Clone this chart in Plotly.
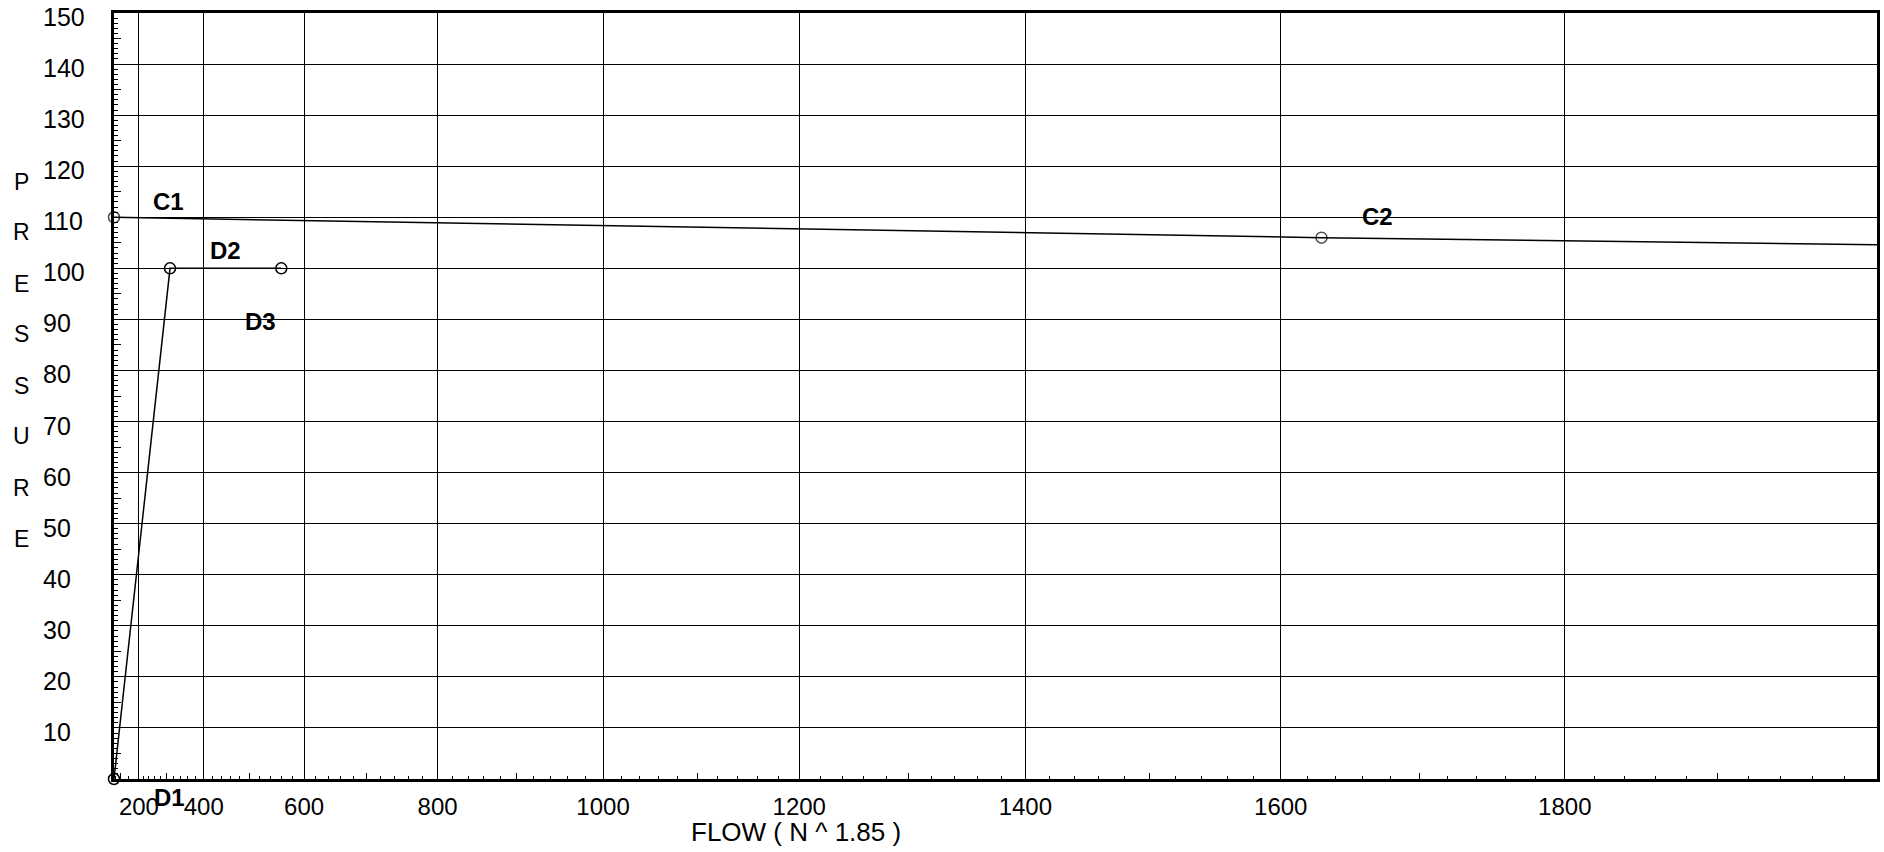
import numpy as np
import plotly.graph_objects as go

# ---------------- data ----------------
EXP = 1.85
flow_tick_vals = [200, 400, 600, 800, 1000, 1200, 1400, 1600, 1800]
flow_tick_text = ["200", "400", "600", "800", "1000", "1200", "1400", "1600", "1800"]
flow_max = 2000
pressure_ticks = [10, 20, 30, 40, 50, 60, 70, 80, 90, 100, 110, 120, 130, 140, 150]
pressure_max = 150

c_flow = [0, 1630, 2000]
c_pressure = [110, 106, 104.6]
c_labels = ["C1", "C2", ""]

d_flow = [0, 310, 560]
d_pressure = [0, 100, 100]
d_labels = ["D1", "D2", "D3"]

y_title_letters = list("PRESSURE")
x_title = "FLOW ( N ^ 1.85 )"

# ---------------- layout constants ----------------
W, H = 1884, 852
L, R, T, B = 114, 4, 13, 73
PW, PH = W - L - R, H - T - B
FONT = "Liberation Sans, Arial, sans-serif"


def fx(q):
    return np.asarray(q, dtype=float) ** EXP


def paper_x(px):
    return (px - L) / PW


def paper_y(py):
    return (H - B - py) / PH


fig = go.Figure()

# supply curve C
fig.add_trace(go.Scatter(
    x=fx(c_flow), y=c_pressure, mode="lines+markers",
    line=dict(color="black", width=1.5),
    marker=dict(symbol="circle-open", size=[11, 11, 0], color="black", line=dict(width=1.5)),
    cliponaxis=False, showlegend=False, hoverinfo="skip"))

# demand curve D
fig.add_trace(go.Scatter(
    x=fx(d_flow), y=d_pressure, mode="lines+markers",
    line=dict(color="black", width=1.5),
    marker=dict(symbol="circle-open", size=11, color="black", line=dict(width=1.5)),
    cliponaxis=False, showlegend=False, hoverinfo="skip"))

# helper traces for overlay tick axes
fig.add_trace(go.Scatter(x=[], y=[], xaxis="x2", yaxis="y", showlegend=False))
fig.add_trace(go.Scatter(x=[], y=[], xaxis="x", yaxis="y2", showlegend=False))

minor_flow = [50, 150] + [q for q in range(220, flow_max, 20) if q % 100 != 0]
mid_flow = [q for q in range(100, flow_max, 200)]
minor_p = [p for p in range(1, pressure_max) if p % 5 != 0]
mid_p = [p for p in range(5, pressure_max, 10)]

fig.update_layout(
    width=W, height=H,
    margin=dict(l=L, r=R, t=T, b=B, pad=0),
    paper_bgcolor="white", plot_bgcolor="white",
    font=dict(family=FONT, color="black", size=24),
    xaxis=dict(
        range=[0, fx(flow_max)], tickmode="array",
        tickvals=fx(flow_tick_vals), ticktext=flow_tick_text,
        ticks="", showgrid=True, gridcolor="black", gridwidth=1,
        zeroline=False, showline=True, linecolor="black", linewidth=3, mirror=True,
        tickfont=dict(size=24, family=FONT), ticklabelstandoff=4,
        minor=dict(tickmode="array", tickvals=fx(minor_flow), ticks="inside",
                   ticklen=3, tickwidth=1, tickcolor="black", showgrid=False),
    ),
    xaxis2=dict(
        overlaying="x", matches="x", anchor="y", side="bottom",
        tickmode="array", tickvals=fx(mid_flow), ticks="inside", ticklen=6,
        tickwidth=1, tickcolor="black", showticklabels=False, showgrid=False,
        zeroline=False, showline=False,
    ),
    yaxis=dict(
        range=[0, pressure_max], tickmode="array", tickvals=pressure_ticks,
        ticks="", showticklabels=False, showgrid=True, gridcolor="black", gridwidth=1,
        zeroline=False, showline=True, linecolor="black", linewidth=3, mirror=True,
        minor=dict(tickmode="array", tickvals=minor_p, ticks="inside",
                   ticklen=4, tickwidth=1, tickcolor="black", showgrid=False),
    ),
    yaxis2=dict(
        overlaying="y", matches="y", anchor="x", side="left",
        tickmode="array", tickvals=mid_p, ticks="inside", ticklen=7,
        tickwidth=1, tickcolor="black", showticklabels=False, showgrid=False,
        zeroline=False, showline=False,
    ),
)

annotations = []
# y tick labels (left aligned as in the original)
for p in pressure_ticks:
    annotations.append(dict(
        x=paper_x(41), xref="paper", y=p, yref="y", text=str(p),
        xanchor="left", yanchor="middle", showarrow=False, yshift=-4,
        font=dict(size=25, family=FONT)))

# vertical PRESSURE title
for i, ch in enumerate(y_title_letters):
    annotations.append(dict(
        x=paper_x(21), xref="paper", y=paper_y(181.5 + 51 * i), yref="paper",
        text=ch, xanchor="center", yanchor="middle", showarrow=False,
        font=dict(size=23, family=FONT)))

# x title
annotations.append(dict(
    x=paper_x(797), xref="paper", y=paper_y(832), yref="paper", text=x_title,
    xanchor="center", yanchor="middle", showarrow=False,
    font=dict(size=26, family=FONT)))

# point labels
c_offsets = [(54, 16), (56, 21), (0, 0)]
d_offsets = [(55, -18), (55, 18), (-21, -53)]
for q, p, lab, (dx, dy) in zip(c_flow, c_pressure, c_labels, c_offsets):
    if lab:
        annotations.append(dict(
            x=float(fx(q)), y=p, xref="x", yref="y", text="<b>%s</b>" % lab,
            showarrow=False, xshift=dx, yshift=dy, font=dict(size=24, family=FONT)))
for q, p, lab, (dx, dy) in zip(d_flow, d_pressure, d_labels, d_offsets):
    annotations.append(dict(
        x=float(fx(q)), y=p, xref="x", yref="y", text="<b>%s</b>" % lab,
        showarrow=False, xshift=dx, yshift=dy, font=dict(size=24, family=FONT)))

fig.update_layout(annotations=annotations)

fig.write_html("out.html", config=dict(displayModeBar=False),
               post_script="document.body.style.margin='0px';document.body.style.overflow='hidden';")
